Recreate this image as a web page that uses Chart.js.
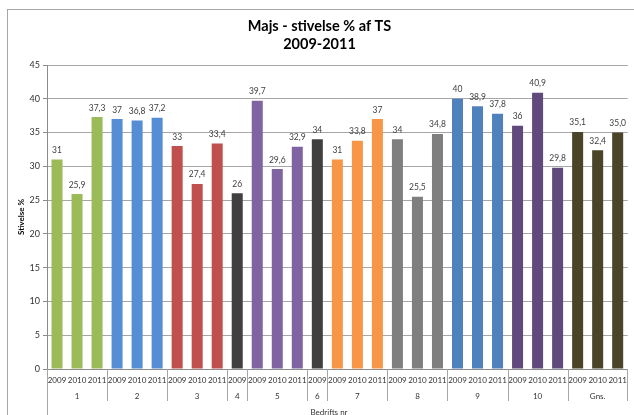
<!DOCTYPE html>
<html>
<head>
<meta charset="utf-8">
<script src="https://cdn.jsdelivr.net/npm/chart.js@4.4.1/dist/chart.umd.min.js"></script>
<style>
  body { margin: 0; background: #fff; }
  #wrap { width: 634px; height: 415px; }
</style>
</head>
<body>
<div id="wrap"><canvas id="chart" width="634" height="415"></canvas></div>
<script>
// Data
const groups = ['1', '2', '3', '4', '5', '6', '7', '8', '9', '10', 'Gns.'];
const groupYears = [
    ['2009', '2010', '2011'],
    ['2009', '2010', '2011'],
    ['2009', '2010', '2011'],
    ['2009'],
    ['2009', '2010', '2011'],
    ['2009'],
    ['2009', '2010', '2011'],
    ['2009', '2010', '2011'],
    ['2009', '2010', '2011'],
    ['2009', '2010', '2011'],
    ['2009', '2010', '2011']
];
const starch = [
    31, 25.9, 37.3,
    37, 36.8, 37.2,
    33, 27.4, 33.4,
    26,
    39.7, 29.6, 32.9,
    34,
    31, 33.8, 37,
    34, 25.5, 34.8,
    40, 38.9, 37.8,
    36, 40.9, 29.8,
    35.1, 32.4, 35.0
];
const groupColors = ['#9BBB59', '#558ED5', '#C0504D', '#404040', '#8064A2', '#404040',
    '#F79646', '#7F7F7F', '#4F81BD', '#604A7B', '#4A4528'];
const yTicks = [0, 5, 10, 15, 20, 25, 30, 35, 40, 45];

// flatten groups into categories
const labels = [];
const barColors = [];
const barGroup = [];
groupYears.forEach((yrs, g) => {
    yrs.forEach(y => {
        labels.push(y);
        barColors.push(groupColors[g]);
        barGroup.push(g);
    });
});

const FONT = 'Lato, "Open Sans", sans-serif';

function fmt(v, i) {
    // the average group shows one decimal
    const s = groups[barGroup[i]] === 'Gns.' ? v.toFixed(1) : String(v);
    return s.replace('.', ',');
}

const frameAndGroups = {
    id: 'frameAndGroups',
    beforeDraw(chart) {
        const ctx = chart.ctx;
        ctx.save();
        ctx.strokeStyle = '#A6A6A6';
        ctx.lineWidth = 1;
        ctx.strokeRect(7.5, 9.5, 700, 500);
        ctx.restore();
    },
    afterDraw(chart) {
        const ctx = chart.ctx;
        const x = chart.scales.x;
        const w = (x.right - x.left) / labels.length;
        const top = x.top;
        ctx.save();
        ctx.strokeStyle = '#A6A6A6';
        ctx.lineWidth = 1;
        ctx.fillStyle = '#333';
        ctx.font = '8px ' + FONT;
        ctx.textAlign = 'center';
        ctx.textBaseline = 'middle';
        let idx = 0;
        groupYears.forEach((yrs, g) => {
            const x0 = Math.round(x.left + idx * w) + 0.5;
            ctx.beginPath();
            ctx.moveTo(x0, top);
            ctx.lineTo(x0, g === 0 ? 415 : 401);
            ctx.stroke();
            const mid = x.left + (idx + yrs.length / 2) * w;
            ctx.fillText(groups[g], mid, 396);
            idx += yrs.length;
        });
        const xEnd = Math.round(x.left + idx * w) - 0.5;
        ctx.beginPath();
        ctx.moveTo(xEnd, top);
        ctx.lineTo(xEnd, 401);
        ctx.stroke();
        // axis title, partly cut by the picture edge
        ctx.textBaseline = 'top';
        ctx.fillText('Bedrifts nr', 329, 408);
        ctx.restore();
    },
    afterDatasetsDraw(chart) {
        const ctx = chart.ctx;
        const meta = chart.getDatasetMeta(0);
        ctx.save();
        ctx.fillStyle = '#404040';
        ctx.font = '8.5px ' + FONT;
        ctx.textAlign = 'center';
        ctx.textBaseline = 'bottom';
        meta.data.forEach((bar, i) => {
            ctx.fillText(fmt(starch[i], i), bar.x, bar.y - 5);
        });
        ctx.restore();
    }
};

new Chart(document.getElementById('chart'), {
    type: 'bar',
    data: {
        labels: labels,
        datasets: [{
            label: 'Stivelse %',
            data: starch,
            backgroundColor: barColors,
            borderWidth: 0,
            categoryPercentage: 1,
            barPercentage: 0.55
        }]
    },
    options: {
        responsive: false,
        animation: false,
        layout: { padding: { left: 7, right: 2, top: 0, bottom: 0 } },
        plugins: {
            legend: { display: false },
            tooltip: { enabled: false },
            title: {
                display: true,
                text: ['Majs - stivelse % af TS', '2009-2011'],
                color: '#000',
                font: { family: FONT, size: 14.5, weight: 'bold', lineHeight: 1.27 },
                padding: { top: 17, bottom: 11.2 }
            }
        },
        scales: {
            x: {
                grid: { display: false, drawTicks: false },
                border: { display: true, color: '#8C8C8C' },
                ticks: {
                    autoSkip: false,
                    maxRotation: 0,
                    minRotation: 0,
                    padding: 7,
                    color: '#333',
                    font: { family: FONT, size: 8 }
                },
                afterFit(scale) { scale.height = 46; }
            },
            y: {
                min: 0,
                max: 45,
                afterBuildTicks(scale) {
                    scale.ticks = yTicks.map(v => ({ value: v }));
                },
                grid: { color: '#A6A6A6', tickLength: 4, tickColor: '#8C8C8C' },
                border: { display: true, color: '#8C8C8C' },
                ticks: {
                    padding: 3,
                    color: '#333',
                    font: { family: FONT, size: 9 }
                },
                title: {
                    display: true,
                    text: 'Stivelse %',
                    color: '#000',
                    font: { family: FONT, size: 8, weight: 'bold' },
                    padding: { top: 10, bottom: 0 }
                },
                afterFit(scale) { scale.width = 40; }
            }
        }
    },
    plugins: [frameAndGroups]
});
</script>
</body>
</html>
